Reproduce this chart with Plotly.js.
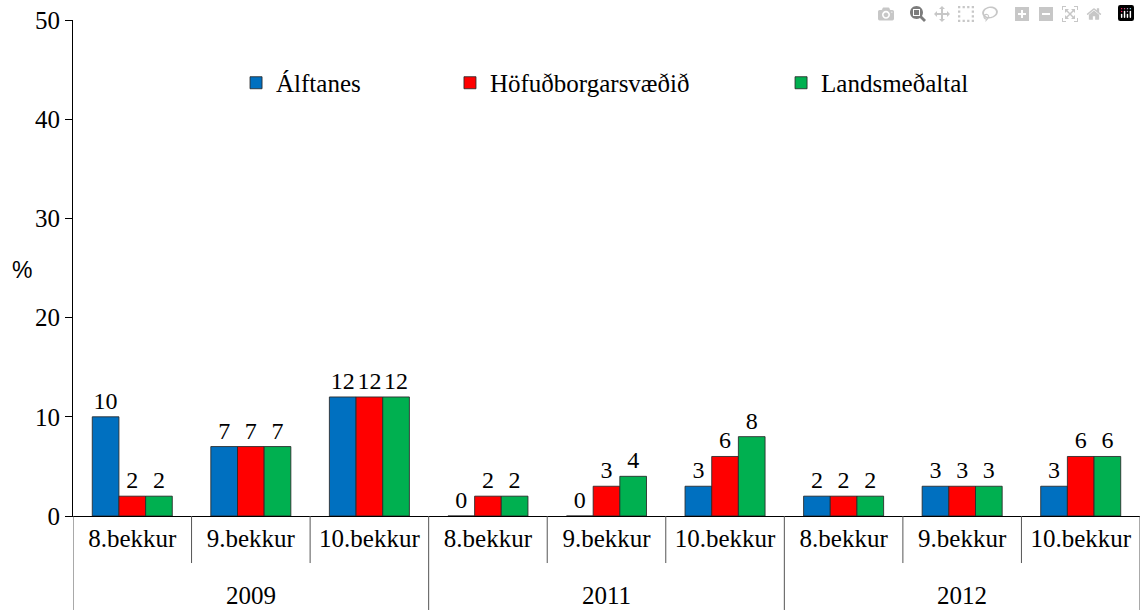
<!DOCTYPE html>
<html>
<head>
<meta charset="utf-8">
<script src="https://cdn.plot.ly/plotly-3.0.1.min.js"></script>
</head>
<body style="margin:0">
<div id="chart" style="width:1140px;height:610px"></div>
<script>
const years = ['2009', '2011', '2012'];
const grades = ['8.bekkur', '9.bekkur', '10.bekkur'];
const seriesNames = ['Álftanes', 'Höfuðborgarsvæðið', 'Landsmeðaltal'];
const alftanes = [10, 7, 12, 0, 0, 3, 2, 3, 3];
const hofudborgarsvaedid = [2, 7, 12, 2, 3, 6, 2, 3, 6];
const landsmedaltal = [2, 7, 12, 2, 4, 8, 2, 3, 6];
const yTicks = [0, 10, 20, 30, 40, 50];

const fam = 'Liberation Serif';
const colors = ['#0070C0', '#FF0000', '#00B050'];
const seriesValues = [alftanes, hofudborgarsvaedid, landsmedaltal];
const cats = [];
const catText = [];
years.forEach(y => grades.forEach(g => { cats.push(y + ' ' + g); catText.push(g); }));

const legendIds = ['legend', 'legend2', 'legend3'];
const traces = seriesValues.map((vals, i) => ({
  type: 'bar',
  name: seriesNames[i],
  x: cats,
  y: vals,
  text: vals.map(v => String(v)),
  textposition: 'outside',
  textfont: {family: fam, size: 24},
  cliponaxis: false,
  marker: {color: colors[i], line: {color: 'rgba(40,40,40,0.85)', width: 1}},
  legend: legendIds[i],
  hoverinfo: 'skip'
}));

const shapes = [];
for (let i = 0; i <= cats.length; i++) {
  const isGroup = i % grades.length === 0;
  shapes.push({
    type: 'line', xref: 'x', yref: 'paper',
    x0: i - 0.5, x1: i - 0.5, y0: 0, y1: isGroup ? -0.1895 : -0.0948,
    line: {color: '#555', width: 1}
  });
}

const annotations = years.map((y, j) => ({
  xref: 'x', yref: 'paper', x: j * grades.length + 1, y: -0.161,
  text: y, showarrow: false, xanchor: 'center', yanchor: 'middle',
  font: {family: fam, size: 25}
}));
annotations.push({
  xref: 'paper', yref: 'paper', x: -0.048, y: 0.496, text: '%', showarrow: false,
  xanchor: 'center', yanchor: 'middle',
  font: {family: 'Liberation Sans', size: 23}
});

const legendX = [0.1528, 0.3533, 0.6636];
const layout = {
  width: 1140, height: 610,
  margin: {l: 73, r: 0, t: 20, b: 94},
  paper_bgcolor: '#fff', plot_bgcolor: '#fff',
  font: {color: '#000'},
  barmode: 'group', bargap: 0.325, bargroupgap: 0,
  showlegend: true,
  xaxis: {
    type: 'category', range: [-0.5, cats.length - 0.5],
    tickvals: cats, ticktext: catText, ticks: '',
    tickfont: {family: fam, size: 25},
    showline: true, linecolor: '#000', linewidth: 1,
    showgrid: false, zeroline: false
  },
  yaxis: {
    range: [0, 50], tickvals: yTicks, ticks: 'outside', ticklen: 7, tickcolor: '#000',
    tickfont: {family: fam, size: 25},
    showline: true, linecolor: '#000', linewidth: 1,
    showgrid: false, zeroline: false
  },
  shapes: shapes,
  annotations: annotations
};
legendIds.forEach((id, i) => {
  layout[id] = {
    x: legendX[i], y: 0.873, xanchor: 'left', yanchor: 'middle',
    orientation: 'h', font: {family: fam, size: 25}, bgcolor: 'rgba(0,0,0,0)', borderwidth: 0
  };
});

Plotly.newPlot('chart', traces, layout);
</script>
</body>
</html>
